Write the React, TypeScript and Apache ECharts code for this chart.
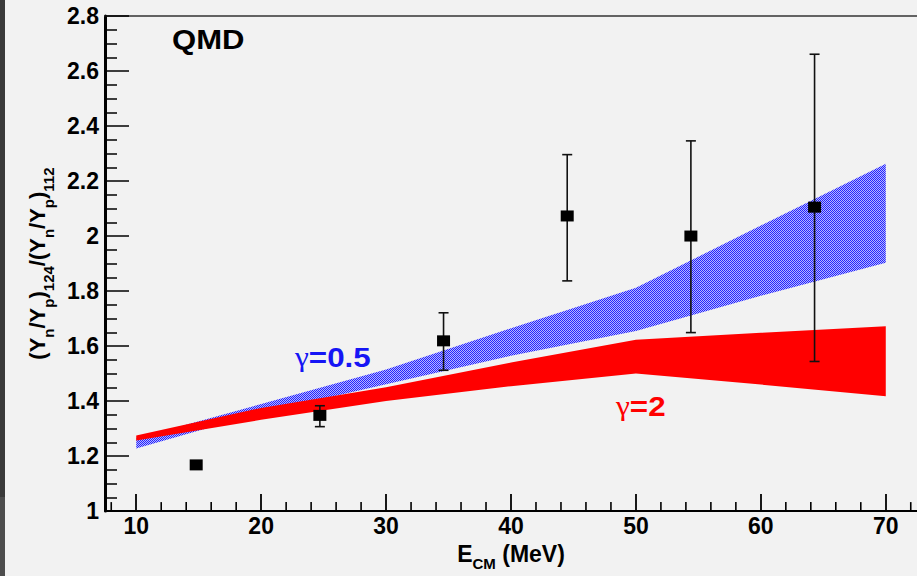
import React, { useEffect, useRef } from "react";
import * as echarts from "echarts";

// Theory bands (QMD), x = E_CM (MeV)
const bandX = [10, 20, 30, 40, 50, 60, 70];
const blueLow = [1.228, 1.357, 1.461, 1.565, 1.655, 1.783, 1.903];
const blueHigh = [1.264, 1.389, 1.515, 1.665, 1.812, 2.038, 2.263];
const redLow = [1.257, 1.332, 1.4, 1.454, 1.5, 1.46, 1.418];
const redHigh = [1.275, 1.375, 1.45, 1.54, 1.623, 1.648, 1.672];

// Data points with error bars
const pointX = [14.8, 24.7, 34.6, 44.5, 54.4, 64.3];
const pointY = [1.168, 1.348, 1.619, 2.073, 2.0, 2.105];
const errLow = [1.168, 1.307, 1.512, 1.837, 1.649, 1.544];
const errHigh = [1.168, 1.383, 1.721, 2.296, 2.346, 2.661];

// Minor ticks on the x axis
const xMinorTicks = [8, 12, 14, 16, 18, 22, 24, 26, 28, 32, 34, 36, 38, 42, 44, 46, 48, 52, 54, 56, 58, 62, 64, 66, 68, 72];

const FONT = "'Liberation Sans', Arial, Helvetica, sans-serif";

function makePattern(): string {
  const c = document.createElement("canvas");
  c.width = 2;
  c.height = 2;
  const ctx = c.getContext("2d")!;
  ctx.fillStyle = "#b4b4ff";
  ctx.fillRect(0, 0, 2, 2);
  ctx.fillStyle = "#2424ff";
  ctx.fillRect(0, 0, 1, 1);
  ctx.fillRect(1, 1, 1, 1);
  return c.toDataURL();
}

function bandSeries(name: string, low: number[], high: number[], fill: any, z: number) {
  return {
    type: "custom",
    name,
    data: bandX.map((x, i) => [x, low[i], high[i]]),
    encode: { x: 0, y: [1, 2] },
    z,
    silent: true,
    renderItem: (params: any, api: any) => {
      if (params.dataIndex !== 0) return null;
      const pts: number[][] = [];
      for (let i = 0; i < bandX.length; i++) pts.push(api.coord([bandX[i], high[i]]));
      for (let i = bandX.length - 1; i >= 0; i--) pts.push(api.coord([bandX[i], low[i]]));
      return {
        type: "polygon",
        shape: { points: pts },
        style: { fill, stroke: null, lineWidth: 0 },
      };
    },
  };
}

export default function App() {
  const ref = useRef<HTMLDivElement>(null);

  useEffect(() => {
    if (!ref.current) return;
    const chart = echarts.init(ref.current, null, { renderer: "svg" });
    const pattern = {
      image: makePattern(),
      repeat: "repeat",
      imageWidth: 2,
      imageHeight: 2,
    };

    const mainRich = {
      m: { fontSize: 23, fontWeight: "bold", fontFamily: FONT, color: "#000", lineHeight: 29, verticalAlign: "top" },
      s: { fontSize: 15, fontWeight: "bold", fontFamily: FONT, color: "#000", lineHeight: 15, verticalAlign: "bottom" },
    };
    const yRich = {
      m: { fontSize: 22, fontWeight: "bold", fontFamily: FONT, color: "#000", lineHeight: 30, verticalAlign: "top" },
      s: { fontSize: 15, fontWeight: "bold", fontFamily: FONT, color: "#000", lineHeight: 15, verticalAlign: "bottom" },
    };

    const option: any = {
      animation: false,
      backgroundColor: "#f2f2f2",
      grid: { left: 105, top: 16, width: 815.75, height: 504 },
      xAxis: [
        {
          type: "value",
          min: 7.5,
          max: 72.5,
          position: "bottom",
          axisLine: { onZero: false, lineStyle: { color: "#000", width: 2 } },
          axisTick: { inside: true, length: 17, lineStyle: { color: "#000", width: 1.8 } },
          axisLabel: {
            showMinLabel: false,
            showMaxLabel: false,
            fontSize: 23,
            fontWeight: "bold",
            fontFamily: FONT,
            color: "#000",
            margin: 3,
          },
          splitLine: { show: false },
          name: "{m|E}{s|CM}{m| (MeV)}",
          nameLocation: "middle",
          nameGap: 24,
          nameTextStyle: { rich: mainRich },
        },
        {
          type: "value",
          min: 7.5,
          max: 72.5,
          position: "top",
          axisLine: { show: true, onZero: false, lineStyle: { color: "#333", width: 1.5 } },
          axisTick: { show: false },
          axisLabel: { show: false },
          splitLine: { show: false },
        },
      ],
      yAxis: {
        type: "value",
        min: 1,
        max: 2.8,
        interval: 0.2,
        axisLine: { show: true, onZero: false, lineStyle: { color: "#000", width: 3 } },
        axisTick: { show: true, inside: true, length: 24, lineStyle: { color: "#000", width: 1.5 } },
        minorTick: { show: true, splitNumber: 4, length: 12, lineStyle: { color: "#000", width: 1.5 } },
        axisLabel: { fontSize: 23, fontWeight: "bold", fontFamily: FONT, color: "#000", margin: 6 },
        splitLine: { show: false },
        name: "{m|(Y}{s|n}{m|/Y}{s|p}{m|)}{s|124}{m|/(Y}{s|n}{m|/Y}{s|p}{m|)}{s|112}",
        nameLocation: "middle",
        nameRotate: 90,
        nameGap: 47,
        nameTextStyle: { rich: yRich },
      },
      series: [
        bandSeries("gamma05", blueLow, blueHigh, pattern, 1),
        bandSeries("gamma2", redLow, redHigh, "#ff0000", 2),
        {
          type: "custom",
          name: "errors",
          data: pointX.map((x, i) => [x, errLow[i], errHigh[i]]),
          encode: { x: 0, y: [1, 2] },
          z: 3,
          silent: true,
          renderItem: (params: any, api: any) => {
            const x = api.value(0);
            const lo = api.coord([x, api.value(1)]);
            const hi = api.coord([x, api.value(2)]);
            const cap = 5;
            const st = { stroke: "#111", lineWidth: 1.6 };
            return {
              type: "group",
              children: [
                { type: "line", shape: { x1: lo[0], y1: lo[1], x2: hi[0], y2: hi[1] }, style: st },
                { type: "line", shape: { x1: lo[0] - cap, y1: lo[1], x2: lo[0] + cap, y2: lo[1] }, style: st },
                { type: "line", shape: { x1: hi[0] - cap, y1: hi[1], x2: hi[0] + cap, y2: hi[1] }, style: st },
              ],
            };
          },
        },
        {
          type: "scatter",
          name: "data",
          data: pointX.map((x, i) => [x, pointY[i]]),
          symbol: "rect",
          symbolSize: [13, 11],
          itemStyle: { color: "#000", opacity: 1 },
          z: 4,
          silent: true,
        },
        {
          type: "custom",
          name: "xMinorTicks",
          data: xMinorTicks.map((v) => [v, 1]),
          encode: { x: 0, y: 1 },
          z: 5,
          silent: true,
          clip: false,
          renderItem: (params: any, api: any) => {
            const p = api.coord([api.value(0), api.value(1)]);
            return {
              type: "line",
              shape: { x1: p[0], y1: p[1], x2: p[0], y2: p[1] - 9 },
              style: { stroke: "#000", lineWidth: 1.6 },
            };
          },
        },
      ],
      graphic: [
        { type: "rect", left: 0, top: 0, z: 100, shape: { width: 5, height: 497 }, style: { fill: "#3a3a3a" }, silent: true },
        { type: "rect", left: 0, top: 497, z: 100, shape: { width: 5, height: 79 }, style: { fill: "#4d4d4d" }, silent: true },
        {
          type: "text",
          x: 172,
          y: 40,
          z: 100,
          scaleX: 1.15,
          style: {
            text: "QMD",
            fontSize: 27,
            fontWeight: "bold",
            fontFamily: FONT,
            fill: "#000",
            verticalAlign: "middle",
            align: "left",
          },
          silent: true,
        },
        {
          type: "text",
          x: 295,
          y: 357,
          z: 100,
          scaleX: 1.12,
          style: {
            text: "{g|γ}{b|=0.5}",
            verticalAlign: "middle",
            align: "left",
            rich: {
              g: { fontSize: 28, fontFamily: "'Liberation Serif', serif", fill: "#1515f5" },
              b: { fontSize: 28, fontWeight: "bold", fontFamily: FONT, fill: "#1515f5" },
            },
          },
          silent: true,
        },
        {
          type: "text",
          x: 616,
          y: 406,
          z: 100,
          scaleX: 1.12,
          style: {
            text: "{g|γ}{b|=2}",
            verticalAlign: "middle",
            align: "left",
            rich: {
              g: { fontSize: 28, fontFamily: "'Liberation Serif', serif", fill: "#ff0000" },
              b: { fontSize: 28, fontWeight: "bold", fontFamily: FONT, fill: "#ff0000" },
            },
          },
          silent: true,
        },
      ],
    };

    chart.setOption(option);
    return () => chart.dispose();
  }, []);

  return (
    <div
      ref={ref}
      style={{ position: "fixed", left: 0, top: 0, width: 917, height: 576, background: "#f2f2f2" }}
    />
  );
}
